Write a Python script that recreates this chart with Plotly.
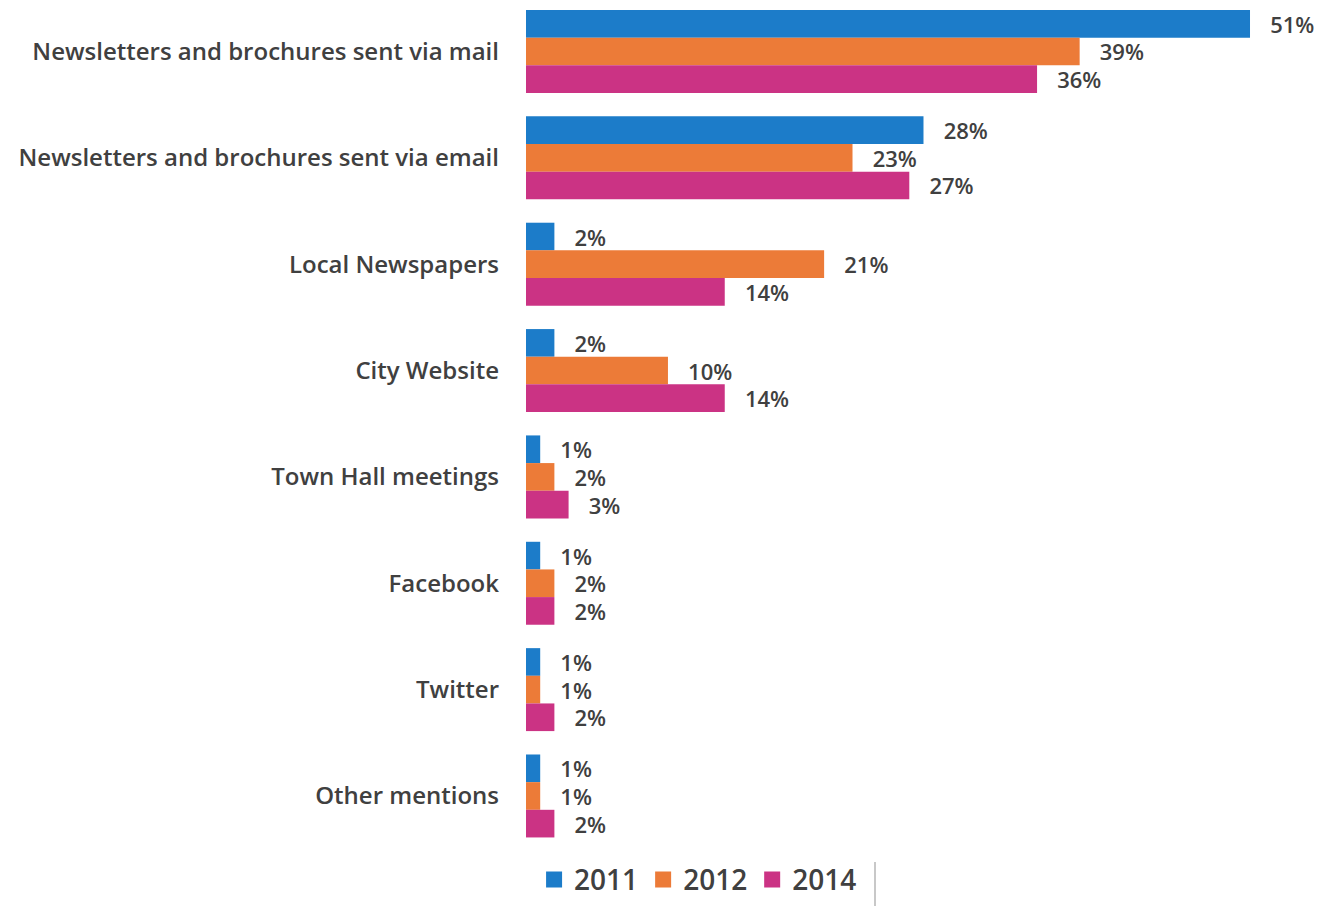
import plotly.graph_objects as go

categories = [
    "Newsletters and brochures sent via mail",
    "Newsletters and brochures sent via email",
    "Local Newspapers",
    "City Website",
    "Town Hall meetings",
    "Facebook",
    "Twitter",
    "Other mentions",
]
years = ["2011", "2012", "2014"]
values_2011 = [51, 28, 2, 2, 1, 1, 1, 1]
values_2012 = [39, 23, 21, 10, 2, 2, 1, 1]
values_2014 = [36, 27, 14, 14, 3, 2, 2, 2]
series = [values_2011, values_2012, values_2014]
colors = ["#1C7CC9", "#EC7B38", "#CB3384"]

FONT = "Open Sans"
TEXT_COLOR = "#404040"
NBSP = "\u00a0"

fig = go.Figure()
for name, vals, col in zip(years, series, colors):
    fig.add_trace(go.Bar(
        name=name,
        y=list(range(len(categories))),
        x=vals,
        orientation="h",
        marker=dict(color=col, line=dict(width=0)),
        text=[f"{NBSP * 3}{v}%" for v in vals],
        textposition="outside",
        constraintext="none",
        cliponaxis=False,
        textfont=dict(family=FONT, size=22, color=TEXT_COLOR, weight=600),
        showlegend=False,
    ))

# legend entries with larger square swatches
for name, col in zip(years, colors):
    fig.add_trace(go.Scatter(
        name=name,
        x=[None], y=[None],
        mode="markers",
        marker=dict(symbol="square", size=18, color=col),
        showlegend=True,
    ))

fig.update_layout(
    width=1319,
    height=906,
    barmode="group",
    bargap=0.22,
    bargroupgap=0,
    plot_bgcolor="white",
    paper_bgcolor="white",
    margin=dict(l=526, r=0, t=0, b=56),
    font=dict(family=FONT, color=TEXT_COLOR),
    xaxis=dict(range=[0, 55.86], visible=False),
    yaxis=dict(
        range=[7.508, -0.484],
        tickmode="array",
        tickvals=list(range(len(categories))),
        ticktext=categories,
        showgrid=False,
        zeroline=False,
        showline=False,
        ticks="",
        ticklabelstandoff=26,
        tickfont=dict(family=FONT, size=24, color=TEXT_COLOR, weight=600),
    ),
    legend=dict(
        orientation="h",
        x=0.217,
        xanchor="center",
        y=-0.035,
        yanchor="middle",
        font=dict(family=FONT, size=28, color=TEXT_COLOR, weight=600),
        itemsizing="trace",
        itemwidth=30,
        traceorder="normal",
    ),
    showlegend=True,
)

# thin frame edge beside the legend
fig.add_shape(
    type="line", xref="paper", yref="paper",
    x0=(875 - 526) / 793, x1=(875 - 526) / 793,
    y0=(850 - 862) / 850, y1=(850 - 906) / 850,
    line=dict(color="#C8C8C8", width=2),
)

fig.write_html("out.html")
